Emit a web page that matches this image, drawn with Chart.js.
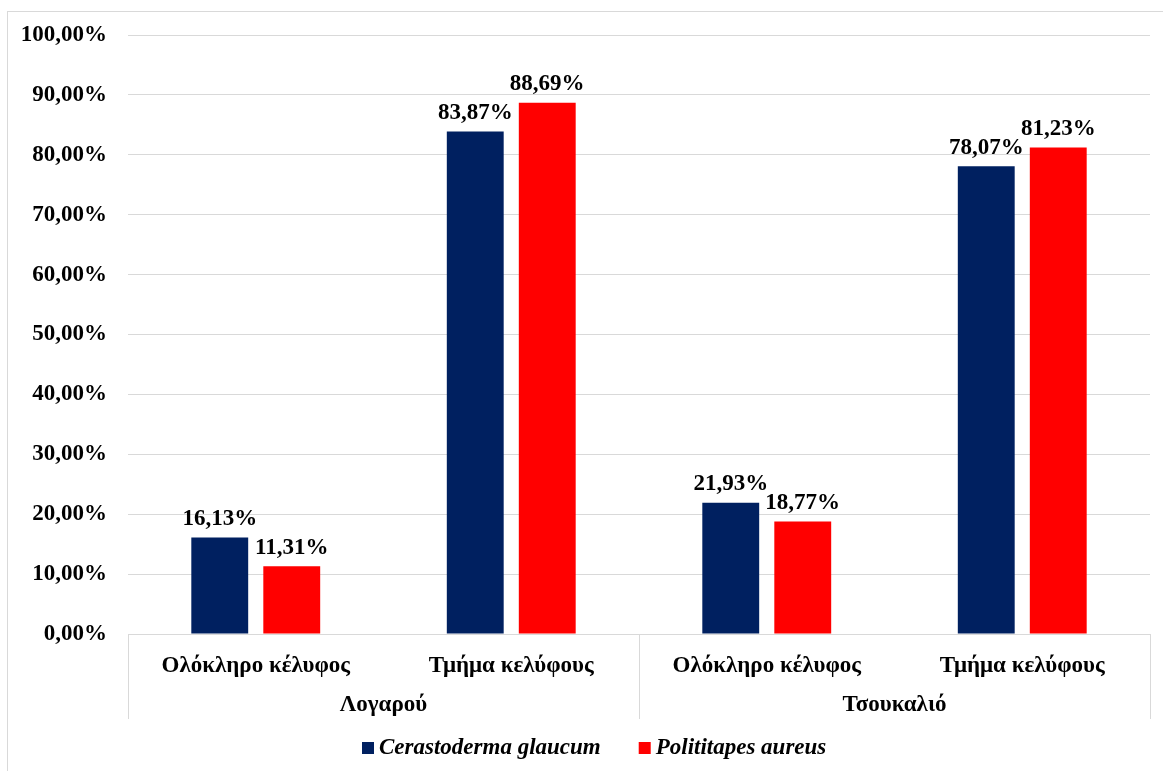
<!DOCTYPE html>
<html>
<head>
<meta charset="utf-8">
<script src="https://cdn.jsdelivr.net/npm/chart.js@4/dist/chart.umd.min.js"></script>
<style>
  html, body { margin: 0; padding: 0; background: #fff; }
  #wrap { width: 1163px; height: 771px; position: relative; }
</style>
</head>
<body>
<div id="wrap"><canvas id="shellChart"></canvas></div>
<script>
// shell fragments by site and species
const subLabels = ["Ολόκληρο κέλυφος", "Τμήμα κελύφους", "Ολόκληρο κέλυφος", "Τμήμα κελύφους"];
const siteLabels = ["Λογαρού", "Τσουκαλιό"];
const cerastoderma = [16.13, 83.87, 21.93, 78.07];
const polititapes = [11.31, 88.69, 18.77, 81.23];
const yTicks = [0, 10, 20, 30, 40, 50, 60, 70, 80, 90, 100];

const FONT = "'Liberation Serif', 'Times New Roman', serif";
const FSIZE = 23;
const GRID = "#d9d9d9";

function pct(v) {
  return v.toFixed(2).replace(".", ",") + "%";
}

// outer frame + site row under the category labels
const sitePlugin = {
  id: "siteRow",
  beforeDraw(chart) {
    const ctx = chart.ctx;
    ctx.save();
    ctx.strokeStyle = GRID;
    ctx.lineWidth = 1;
    ctx.strokeRect(7.5, 11.5, 1170, 780);
    ctx.restore();
  },
  afterDraw(chart) {
    const ctx = chart.ctx;
    const x = chart.scales.x;
    const bottom = chart.chartArea.bottom;
    const half = (x.getPixelForValue(1) - x.getPixelForValue(0)) / 2;
    ctx.save();
    ctx.strokeStyle = GRID;
    ctx.lineWidth = 1;
    const edges = [x.getPixelForValue(0) - half, x.getPixelForValue(1) + half, x.getPixelForValue(3) + half];
    edges.forEach((ex) => {
      const px = Math.round(ex) + 0.5;
      ctx.beginPath();
      ctx.moveTo(px, bottom);
      ctx.lineTo(px, bottom + 85);
      ctx.stroke();
    });
    ctx.fillStyle = "#000";
    ctx.font = "bold " + FSIZE + "px " + FONT;
    ctx.textAlign = "center";
    ctx.textBaseline = "middle";
    siteLabels.forEach((name, i) => {
      const cx = (x.getPixelForValue(i * 2) + x.getPixelForValue(i * 2 + 1)) / 2;
      ctx.fillText(name, cx, bottom + 71);
    });
    ctx.restore();
  }
};

// legend row at the bottom, squares close to the species names
const legendPlugin = {
  id: "speciesLegend",
  afterDraw(chart) {
    const ctx = chart.ctx;
    const box = 12, gap = 5, spacing = 38;
    const cy = chart.chartArea.bottom + 114;
    ctx.save();
    ctx.font = "italic bold " + FSIZE + "px " + FONT;
    ctx.textBaseline = "middle";
    ctx.textAlign = "left";
    const items = chart.data.datasets.map((ds) => ({
      text: ds.label,
      color: ds.backgroundColor,
      w: ctx.measureText(ds.label).width
    }));
    let total = 0;
    items.forEach((it, i) => { total += box + gap + it.w + (i ? spacing : 0); });
    let px = Math.round(594 - total / 2);
    items.forEach((it) => {
      ctx.fillStyle = it.color;
      ctx.fillRect(px, cy - 6, box, box);
      ctx.fillStyle = "#000";
      ctx.fillText(it.text, px + box + gap, cy);
      px += box + gap + it.w + spacing;
    });
    ctx.restore();
  }
};

// value labels above each bar
const valuePlugin = {
  id: "valueLabels",
  afterDatasetsDraw(chart) {
    const ctx = chart.ctx;
    ctx.save();
    ctx.fillStyle = "#000";
    ctx.font = "bold " + FSIZE + "px " + FONT;
    ctx.textAlign = "center";
    ctx.textBaseline = "bottom";
    chart.data.datasets.forEach((ds, di) => {
      chart.getDatasetMeta(di).data.forEach((bar, i) => {
        ctx.fillText(pct(ds.data[i]), bar.x, bar.y - 7);
      });
    });
    ctx.restore();
  }
};

new Chart(document.getElementById("shellChart"), {
  type: "bar",
  data: {
    labels: subLabels,
    datasets: [
      {
        label: "Cerastoderma glaucum",
        data: cerastoderma,
        backgroundColor: "#002060",
        categoryPercentage: 0.5636,
        barPercentage: 0.79
      },
      {
        label: "Polititapes aureus",
        data: polititapes,
        backgroundColor: "#ff0000",
        categoryPercentage: 0.5636,
        barPercentage: 0.79
      }
    ]
  },
  options: {
    responsive: true,
    maintainAspectRatio: false,
    animation: false,
    layout: { padding: { left: 0, right: 13, top: 35, bottom: 63 } },
    plugins: {
      tooltip: { enabled: false },
      legend: { display: false }
    },
    scales: {
      x: {
        grid: { display: false, drawTicks: false },
        border: { display: true, color: GRID },
        ticks: {
          color: "#000",
          padding: 18,
          font: { family: FONT, size: FSIZE, weight: "bold" }
        },
        afterFit: (scale) => { scale.height = 74; }
      },
      y: {
        min: 0,
        max: 100,
        afterBuildTicks: (scale) => { scale.ticks = yTicks.map((v) => ({ value: v })); },
        grid: { color: GRID, drawTicks: false },
        border: { display: false },
        ticks: {
          color: "#000",
          padding: 21,
          font: { family: FONT, size: FSIZE, weight: "bold" },
          callback: (v) => pct(v)
        },
        afterFit: (scale) => { scale.width = 128; }
      }
    }
  },
  plugins: [sitePlugin, legendPlugin, valuePlugin]
});
</script>
</body>
</html>
